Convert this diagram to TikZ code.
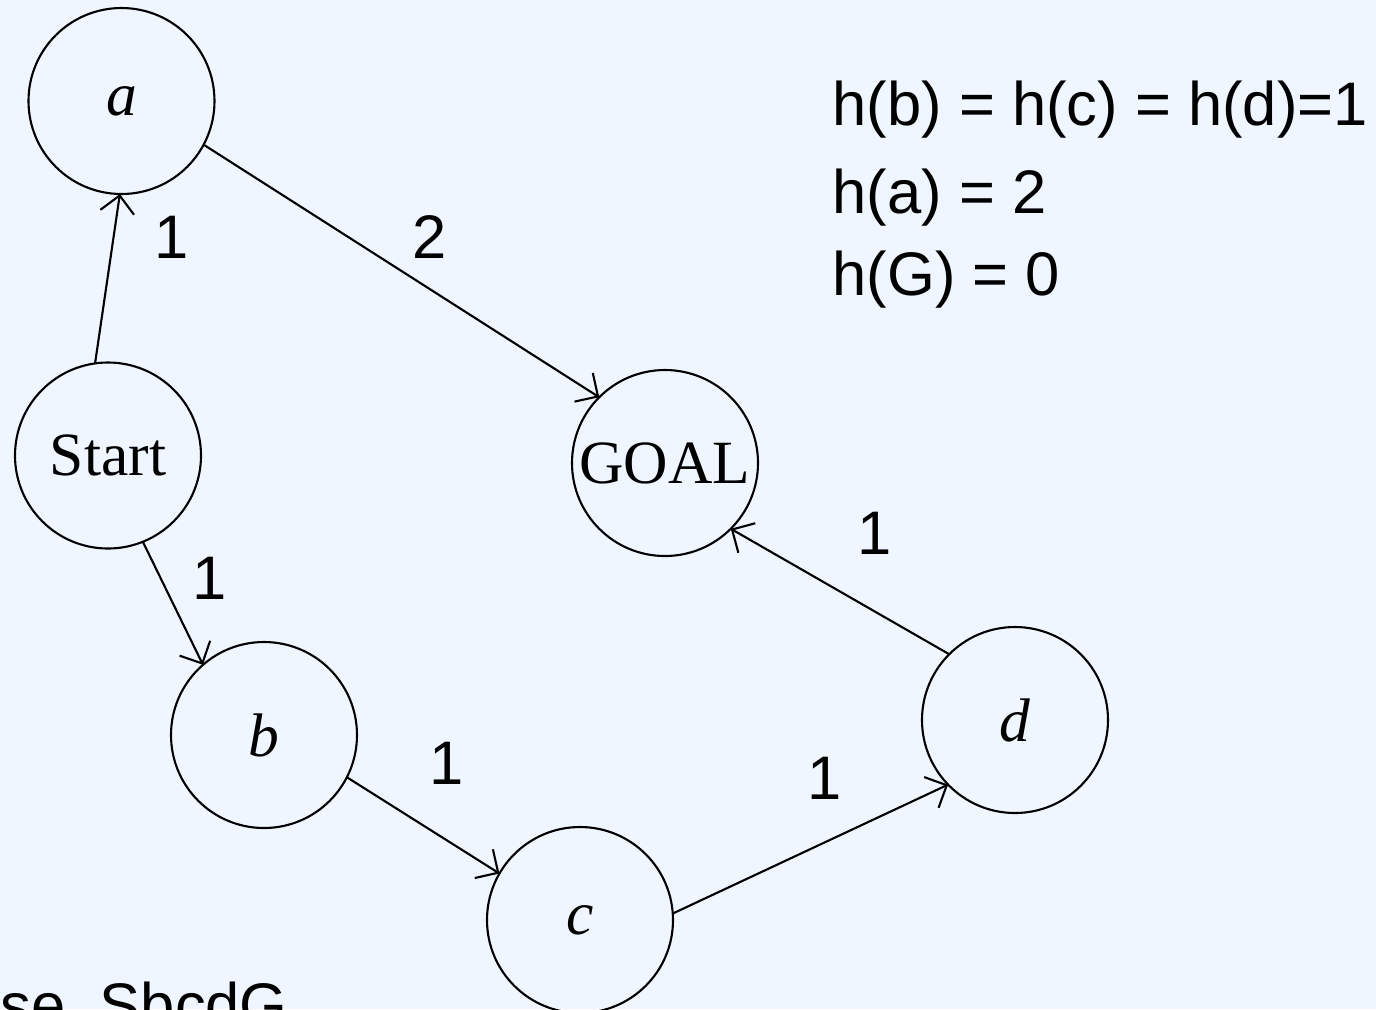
\documentclass[tikz,border=0pt]{standalone}
\usepackage{fontspec}
\setmainfont{Liberation Serif}
\setsansfont{Liberation Sans}
\usepackage{tikz}
\usetikzlibrary{arrows.meta}

\definecolor{bgblue}{RGB}{239,246,255}

\begin{document}
\begin{tikzpicture}[
    state/.style={draw, circle, minimum size=1.86cm, inner sep=0pt, outer sep=0pt,
      line width=0.6pt, font=\fontsize{17.5}{21}\selectfont},
    edge/.style={line width=0.6pt, -{Straight Barb[length=1.7mm, width=3.4mm]}},
    cost/.style={font=\sffamily\fontsize{17.5}{21}\selectfont},
    note/.style={font=\sffamily\fontsize{17.5}{21}\selectfont, anchor=base west, inner sep=0pt}
  ]
  % Background
  \fill[bgblue] (0,0) rectangle (13.76,-10.09);
  \useasboundingbox (0,0) rectangle (13.76,-10.09);
  \clip (0,0) rectangle (13.76,-10.09);

  % States
  \node[state] (a) at (1.215,-1.01) {\raisebox{-3pt}{\textit{a}}};
  \node[state] (start) at (1.08,-4.555) {Start};
  \node[state] (goal) at (6.65,-4.63) {GOAL};
  \node[state] (b) at (2.64,-7.35) {\textit{b}};
  \node[state] (c) at (5.80,-9.20) {\textit{c}};
  \node[state] (d) at (10.15,-7.20) {\textit{d}};

  % Edges
  \draw[edge] (start.98) -- (a.269);
  \draw[edge] (a.-28.5) -- (goal.135.4);
  \draw[edge] (start.-68.6) -- (b.131);
  \draw[edge] (b.-27) -- (c.150.3);
  \draw[edge] (c.4) -- (d.224);
  \draw[edge] (d.135.4) -- (goal.-45);

  % Edge costs
  \node[cost] (costSa) at (1.72,-2.37) {1};
  \node[cost] (costaG) at (4.30,-2.37) {2};
  \node[cost] (costSb) at (2.10,-5.78) {1};
  \node[cost] (costbc) at (4.47,-7.63) {1};
  \node[cost] (costcd) at (8.25,-7.78) {1};
  \node[cost] (costdG) at (8.75,-5.33) {1};

  % Heuristic values
  \node[note] (hbcd) at (8.32,-1.25) {h(b) = h(c) = h(d)=1};
  \node[note] (ha) at (8.32,-2.13) {h(a) = 2};
  \node[note] (hG) at (8.32,-2.95) {h(G) = 0};

  % Path (cut off at the bottom edge)
  \node[note] (path) at (0.0,-10.26) {se, SbcdG};
\end{tikzpicture}
\end{document}
